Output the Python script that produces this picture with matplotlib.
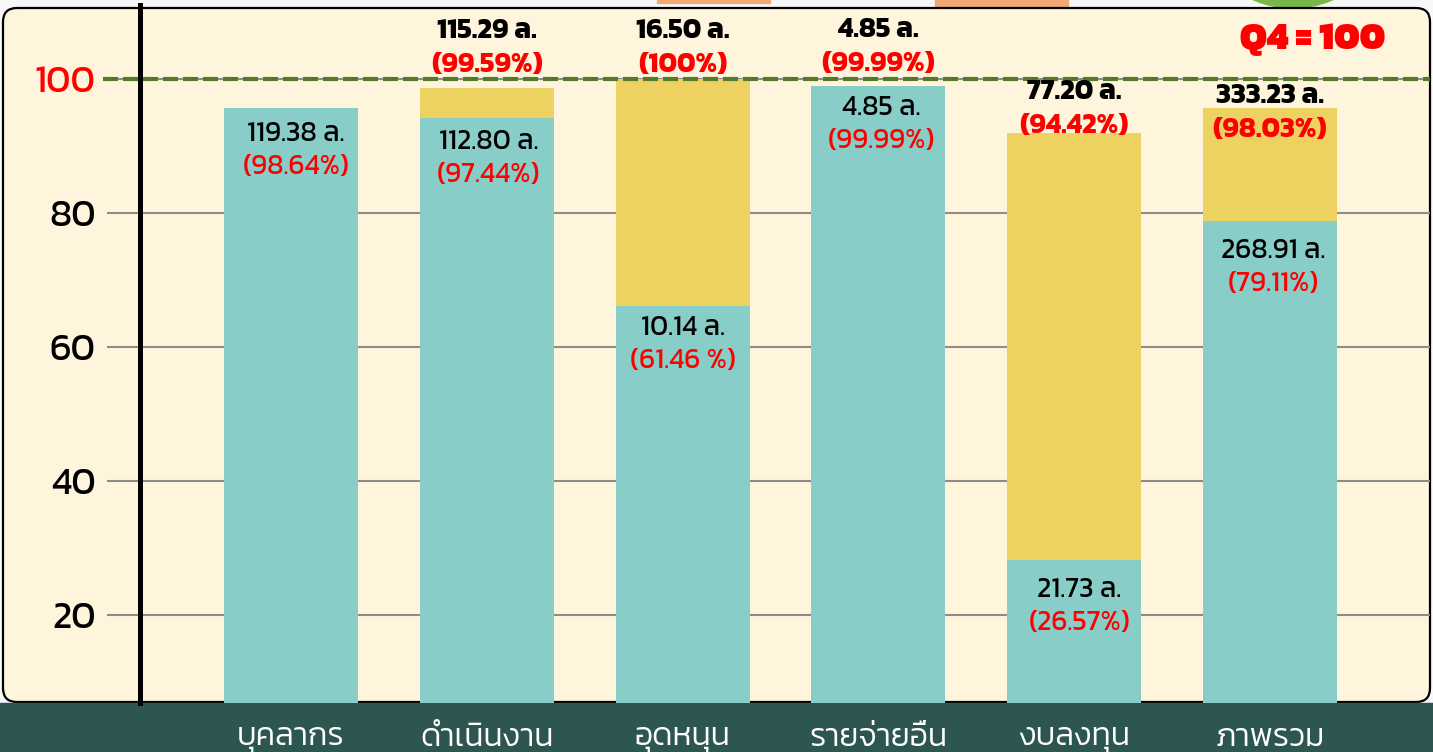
import matplotlib
matplotlib.use("Agg")
import matplotlib.pyplot as plt
from matplotlib.patches import FancyBboxPatch, Rectangle, Circle
from matplotlib.transforms import IdentityTransform

plt.rcParams['font.family'] = ['Kanit', 'DejaVu Sans']

# data
categories = ['บุคลากร', 'ดำเนินงาน', 'อุดหนุน', 'รายจ่ายอื่น', 'งบลงทุน', 'ภาพรวม']
teal_height = [95.7, 94.2, 66.1, 99.0, 28.2, 78.8]
total_height = [95.7, 98.7, 100.0, 99.0, 91.9, 95.7]
inner_amount = ['119.38 ล.', '112.80 ล.', '10.14 ล.', '4.85 ล.', '21.73 ล.', '268.91 ล.']
inner_pct = ['(98.64%)', '(97.44%)', '(61.46 %)', '(99.99%)', '(26.57%)', '(79.11%)']
top_amount = [None, '115.29 ล.', '16.50 ล.', '4.85 ล.', '77.20 ล.', '333.23 ล.']
top_pct = [None, '(99.59%)', '(100%)', '(99.99%)', '(94.42%)', '(98.03%)']
yticks = [20, 40, 60, 80, 100]
target = 100

# layout of the labels (pixels)
inner_gap = [26, 24, 22, 22, 30, 30]
inner_dx = [5, 2, 0, 3, 5, 3]
top_gap = [0, 23, 14, 22, 7, -22]

TEAL = '#88CDC7'
YELLOW = '#EDD262'
CREAM = '#FFF5DC'
BAND = '#2D5651'

fig = plt.figure(figsize=(14.33, 7.52), dpi=100)
fig.patch.set_facecolor('#F7F7F7')

# decorations above the panel
fig.patches.append(Rectangle((657, 749), 113, 3, color='#F0A875',
                             transform=IdentityTransform(), zorder=-3))
fig.patches.append(Rectangle((935, 745), 133, 7, color='#F0A875',
                             transform=IdentityTransform(), zorder=-3))
fig.patches.append(Circle((1293, 844), 100, color='#7AB648',
                          transform=IdentityTransform(), zorder=-3))

# cream rounded panel and dark band
fig.patches.append(FancyBboxPatch((3, 50), 1427, 694,
                                  boxstyle='round,pad=0,rounding_size=14',
                                  facecolor=CREAM, edgecolor='black', linewidth=1.6,
                                  transform=IdentityTransform(), zorder=-2))
fig.patches.append(Rectangle((0, 0), 1433, 49, color=BAND,
                             transform=IdentityTransform(), zorder=-1))

ax = fig.add_axes([140 / 1433, 49 / 752, 1290 / 1433, 698 / 752])
ax.set_facecolor('none')

x = list(range(len(categories)))
yellow_part = [t - b for t, b in zip(total_height, teal_height)]
ax.bar(x, teal_height, width=0.684, color=TEAL, zorder=2)
ax.bar(x, yellow_part, bottom=teal_height, width=0.684, color=YELLOW, zorder=2)

ax.set_xlim(-0.771, 5.817)
ax.set_ylim(6.87, 111.04)

ax.set_yticks(yticks)
ax.set_yticklabels([str(v) for v in yticks], fontsize=27)
ax.get_yticklabels()[-1].set_color('red')
ax.tick_params(axis='y', direction='out', length=23.8, width=1.5,
               color='#8C8C8C', pad=8)
ax.yaxis.grid(True, color='#8C8C8C', linewidth=1.5)
ax.set_axisbelow(True)

ax.set_xticks(x)
ax.set_xticklabels(categories, fontsize=23, color='white', fontweight=300)
ax.tick_params(axis='x', length=0, pad=15)

for s in ['top', 'right', 'bottom']:
    ax.spines[s].set_visible(False)
ax.spines['left'].set_linewidth(3.6)
ax.spines['left'].set_color('black')

ax.axhline(target, xmin=-0.0287, xmax=1, color='#557A2B', linewidth=3,
           linestyle=(0, (3.6, 1.2)), clip_on=False, zorder=3)

for i in x:
    ax.annotate(inner_amount[i], (i, teal_height[i]),
                xytext=(inner_dx[i] * 0.72, -inner_gap[i] * 0.72),
                textcoords='offset points', ha='center', va='center',
                fontsize=20, color='black', zorder=4)
    ax.annotate(inner_pct[i], (i, teal_height[i]),
                xytext=(inner_dx[i] * 0.72, -(inner_gap[i] + 33) * 0.72),
                textcoords='offset points', ha='center', va='center',
                fontsize=20, color='red', zorder=4)
    if top_amount[i]:
        ax.annotate(top_pct[i], (i, total_height[i]), xytext=(0, top_gap[i] * 0.72),
                    textcoords='offset points', ha='center', va='center',
                    fontsize=20, color='red', fontweight='bold', zorder=4)
        ax.annotate(top_amount[i], (i, total_height[i]), xytext=(0, (top_gap[i] + 34) * 0.72),
                    textcoords='offset points', ha='center', va='center',
                    fontsize=20, color='black', fontweight='bold', zorder=4)

fig.text(1313 / 1433, 1 - 40 / 752, 'Q4 = 100', color='red', fontsize=27,
         fontweight=900, ha='center', va='center')

fig.savefig('out.png', dpi=100)
